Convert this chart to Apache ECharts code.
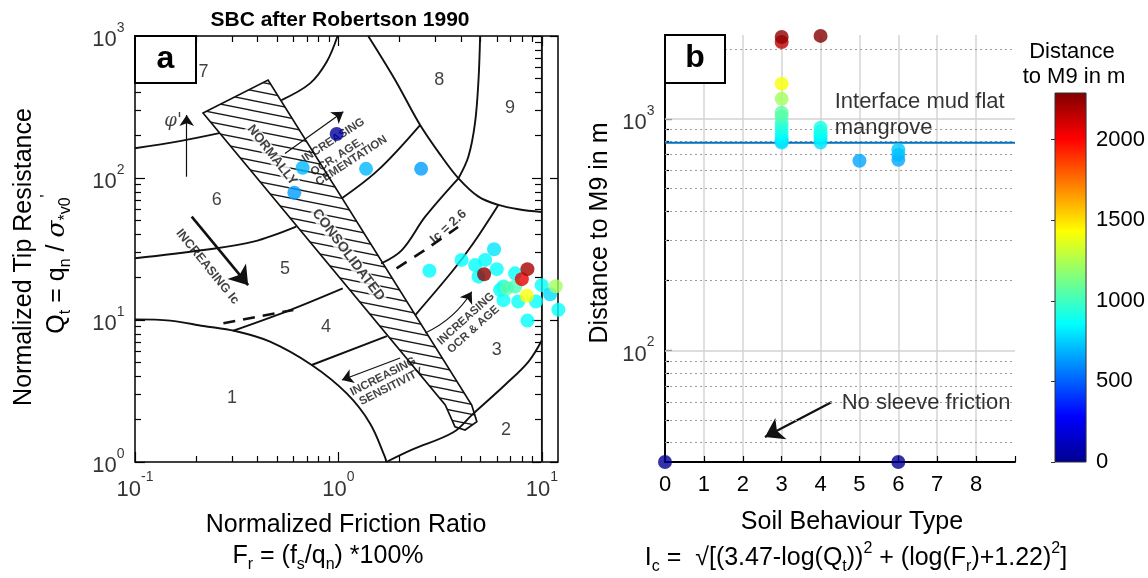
<!DOCTYPE html>
<html><head><meta charset="utf-8">
<script src="https://cdn.jsdelivr.net/npm/echarts@6/dist/echarts.min.js"></script>
<style>html,body{margin:0;padding:0;background:#fff}#c{width:1148px;height:578px}</style>
</head><body><div id="c"></div>
<script>
const FF = '"Liberation Sans", Arial, Helvetica, sans-serif';

// ---------------- DATA ----------------
// Panel a : CPT samples  (Fr in %, Qt, distance to M9 in m)
const aFr   = [0.98, 0.667, 1.367, 2.55, 0.607, 2.80, 4.03, 5.82, 5.26, 4.70, 6.00, 4.88, 7.38, 6.47, 6.22, 6.47, 7.65, 9.98, 10.97, 9.35, 12.05, 8.49, 6.71, 7.38, 11.7, 8.43, 7.97, 8.49, 5.20];
const aQt   = [204, 118, 116, 116, 78.8, 22.2, 26.5, 31.5, 26.5, 24.4, 22.8, 20.2, 21.3, 17.2, 16.3, 13.8, 13.5, 17.6, 15.2, 13.5, 11.8, 9.9, 16.7, 17.2, 17.3, 14.8, 19.4, 22.8, 21.0];
const aDist = [40, 700, 700, 640, 640, 850, 860, 800, 850, 860, 860, 860, 870, 900, 880, 870, 880, 870, 780, 870, 870, 860, 1060, 1020, 1220, 1420, 2050, 2200, 2250];

// Panel b : soil behaviour type vs distance to M9
const bSBT  = [3, 3, 3, 3, 3, 3, 3, 3, 3, 3, 3, 3, 4, 4, 4, 4, 4, 4, 5, 6, 6, 6, 0, 6];
const bDist = [790, 800, 830, 870, 915, 960, 1020, 1062, 1219, 1416, 2146, 2255, 790, 820, 850, 880, 915, 2280, 659, 665, 700, 735, 0, 0];
const interfaceDist = 788;
const bYMin = 33, bYMax = 2300;

// Robertson (1990) chart boundaries  [Fr, Qt]
const zone1Arc     = [[0.1,10.1],[0.149,9.9],[0.217,9.08],[0.31,8.37],[0.461,7.04],[0.739,4.82],[1.098,3.04],[1.43,1.87],[1.69,1.09],[1.72,1.0]];
const zone2Curve   = [[1.72,1.0],[2.3,1.22],[3.67,1.62],[4.52,2.14],[6.6,3.5],[8.6,5.1],[10,7.2]];
const zone67Line   = [[0.1,162],[0.166,182],[0.26,207]];
const zone56Line   = [[0.1,27.2],[0.217,31.1],[0.382,35.6],[0.62,45.4]];
const zone45Line   = [[0.304,8.4],[0.565,11.6],[1.05,16.7]];
const zone34Line   = [[0.739,4.82],[1.73,7.7]];
const zone78Arc    = [[0.99,1000],[0.876,659],[0.725,464],[0.525,354]];
const zone8Outer   = [[1.4,1000],[1.9,490],[2.52,236],[3.22,141],[3.89,99.5],[4.88,73.9],[6.11,64.6],[7.66,60.2],[10,57.5]];
const zone89Line   = [[4.97,1000],[4.88,490],[4.69,243],[4.35,141],[3.89,99.5]];
const zone8Lower   = [[2.52,236],[1.57,114],[1.04,72]];
const junctionLine = [[3.89,99.5],[2.67,53.4],[2.05,31.1],[1.62,25]];
const zone3Top     = [[2.38,10.8],[3.67,22.5],[4.6,34.7],[6.11,64.6]];
const ic26Left     = [[0.272,9.48],[0.6,11.76]];
const ic26Right    = [[1.93,23.1],[2.65,31],[3.87,45.2]];
const chartEdge    = [[10,1],[10,1000]];
const ncBand       = [[0.216,287],[3.35,2.52],[3.74,1.77],[4.19,1.68],[4.79,1.92],[4.52,2.52],[0.451,490]];

// tick values
const aXMajor = [0.1,1,10];
const aXMinor = [0.2,0.3,0.4,0.5,0.6,0.7,0.8,0.9,2,3,4,5,6,7,8,9];
const aYMajor = [1,10,100,1000];
const aYMinor = [2,3,4,5,6,7,8,9,20,30,40,50,60,70,80,90,200,300,400,500,600,700,800,900];
const bYMajor = [100,1000];
const bYMinor = [40,50,60,70,80,90,200,300,400,500,600,700,800,900,2000];
const cbMax = 2290;

// ---------------- HELPERS ----------------
const jet = ['#00008f','#0000ff','#007fff','#00ffff','#7fff7f','#ffff00','#ff7f00','#ff0000','#800000'];
const INK = '#111';

function curve(data, o) {
  o = o || {};
  return {type:'line', xAxisIndex:0, yAxisIndex:0, data, symbol:'none', showSymbol:false,
    smooth: o.smooth === undefined ? 0.35 : o.smooth, silent:true, clip:false, z:3,
    lineStyle:{color:INK, width:o.width || 1.9, type:o.type || 'solid'}};
}
function arrow(from, to, o) {
  o = o || {};
  return {type:'lines', coordinateSystem:'cartesian2d', xAxisIndex:o.xi||0, yAxisIndex:o.yi||0, silent:true, z:4,
    symbol:['none','arrow'], symbolSize:o.head || 10,
    lineStyle:{color:INK, width:o.width || 1.2, curveness:o.curve || 0, opacity:1},
    itemStyle:{color:INK}, data:[{coords:[from, to]}]};
}
function labels(xi, yi, items, z) {
  return {type:'scatter', xAxisIndex:xi, yAxisIndex:yi, symbolSize:1, itemStyle:{color:'rgba(0,0,0,0)'},
    silent:true, clip:false, z:z || 7, data:items, label:{show:true}, emphasis:{disabled:true}};
}
// tick-only log axes (labels drawn separately)
function tickAxis(grid, min, max, pos, values, len, offset) {
  return {gridIndex:grid, type:'log', logBase:10, min, max, position:pos, offset:offset || 0,
    axisLine:{show:false}, axisLabel:{show:false}, splitLine:{show:false}, minorTick:{show:false},
    axisTick:{show:true, inside:true, length:len, customValues:values, lineStyle:{color:'#000', width:1.2}}};
}
const supRich = {
  tk:{fontSize:22, fontFamily:FF, color:'#000', lineHeight:30, verticalAlign:'bottom'},
  tp:{fontSize:14, fontFamily:FF, color:'#000', verticalAlign:'top'}
};
const pow10 = v => '{tk|10}{tp|' + Math.round(Math.log10(v)) + '}';

function txt(t, p, rot, fs, extra) {
  return {value:p, label:Object.assign({formatter:t, position:'inside', rotate:rot, fontSize:fs,
    fontFamily:FF, color:INK}, extra || {})};
}

// hatch pattern for the normally consolidated band
const hc = document.createElement('canvas'); hc.width = 50; hc.height = 10;
const hg = hc.getContext('2d'); hg.strokeStyle = '#1a1a1a'; hg.lineWidth = 1.3;
for (let k = -1; k <= 1; k++) { hg.beginPath(); hg.moveTo(-50, -10 + k*10); hg.lineTo(100, 20 + k*10); hg.stroke(); }

// ---------------- SERIES ----------------
const series = [];
series.push({type:'custom', xAxisIndex:0, yAxisIndex:0, silent:true, z:2, clip:false, data:[[1,1]],
  renderItem(params, api) {
    const pts = ncBand.map(d => api.coord(d));
    return {type:'polygon', shape:{points:pts, smooth:0}, style:{fill:{image:hc, repeat:'repeat'}, stroke:INK, lineWidth:1.7}};
  }});
[zone1Arc, zone2Curve, zone67Line, zone56Line, zone45Line, zone78Arc, zone8Outer, zone89Line, zone8Lower, junctionLine, zone3Top].forEach(c => series.push(curve(c)));
series.push(curve(zone34Line, {smooth:0}));
series.push(curve(chartEdge, {smooth:0}));
series.push(curve(ic26Left, {type:[12,8], width:2.6, smooth:0}));
series.push(curve(ic26Right, {type:[12,9], width:2.6, smooth:0.2}));
// arrows
series.push(arrow([0.1795,102],[0.1795,278], {head:11}));
series.push(arrow([0.190,53.4],[0.360,17.6], {width:2.6, head:18}));
series.push(arrow([0.546,149],[1.057,293], {head:11}));
series.push(arrow([2.67,8.1],[4.52,15.8], {head:11, curve:-0.15}));
series.push(arrow([2.01,5.4],[1.04,3.78], {head:11}));
// texts panel a
const zoneNums = [['1',[0.30,2.81]],['2',[6.67,1.68]],['3',[6.0,6.15]],['4',[0.869,8.97]],['5',[0.546,22.8]],['6',[0.252,70]],['7',[0.217,561]],['8',[3.13,490]],['9',[6.98,310]]];
const aTexts = zoneNums.map(z => txt(z[0], z[1], 0, 18));
const B = {fontWeight:'bold'};
aTexts.push(txt('NORMALLY', [0.472,145], -52, 13, {fontWeight:'bold', backgroundColor:'#fff', padding:[0,1]}));
aTexts.push(txt('CONSOLIDATED', [1.118,28.7], -53, 14, {fontWeight:'bold', backgroundColor:'#fff', padding:[0,1]}));
aTexts.push(txt('INCREASING Ic', [0.227,23.7], -51, 12.5, B));
aTexts.push(txt('INCREASING', [0.670,134], 33, 11.5, {fontWeight:'bold', align:'left'}));
aTexts.push(txt('OCR, AGE,', [0.739,108], 33, 11.5, {fontWeight:'bold', align:'left'}));
aTexts.push(txt('CEMENTATION', [0.782,91.8], 33, 11.5, {fontWeight:'bold', align:'left'}));
aTexts.push(txt('Ic = 2.6', [3.47,45.4], 42, 13, B));
aTexts.push(txt('INCREASING', [4.23,10.2], 42, 11.5, B));
aTexts.push(txt('OCR & AGE', [4.60,8.56], 42, 11.5, B));
aTexts.push(txt('INCREASING', [1.66,4.0], 27, 11.5, B));
aTexts.push(txt('SENSITIVITY', [1.82,3.40], 27, 11.5, B));
aTexts.push(txt("φ'", [0.154,249], 0, 18, {fontFamily:'"DejaVu Serif", serif', fontStyle:'italic'}));
series.push(labels(0,0, aTexts, 6));
// tick labels panel a
series.push(labels(0,0, aXMajor.map(v => ({value:[v,1], label:{formatter:pow10(v), position:'bottom', distance:8, rich:supRich}})), 7));
series.push(labels(0,0, aYMajor.map(v => ({value:[0.1,v], label:{formatter:pow10(v), position:'left', distance:10, rich:supRich}})), 7));
// points panel a
const idxA = series.length;
series.push({type:'scatter', xAxisIndex:0, yAxisIndex:0, symbolSize:14, clip:false, z:10,
  data: aFr.map((f,i) => [f, aQt[i], aDist[i]])});

// panel b
series.push({type:'line', xAxisIndex:1, yAxisIndex:1, data:[[0,interfaceDist],[9,interfaceDist]], symbol:'none',
  silent:true, z:6, lineStyle:{color:'#0072BD', width:2},
  markLine:{silent:true, symbol:'none', label:{show:false}, animation:false,
    data: bYMajor.map(v => ({yAxis:v, lineStyle:{color:'#d2d2d2', type:'solid', width:1.5}}))
      .concat(bYMinor.map(v => ({yAxis:v, lineStyle:{color:'#9c9c9c', type:[2,3], width:1.2}})))}});
series.push(labels(1,1, bYMajor.map(v => ({value:[0,v], label:{formatter:pow10(v), position:'left', distance:10, rich:supRich}})), 7));
series.push(labels(1,1, [
  {value:[4.35,1038], label:{formatter:'Interface mud flat\nmangrove', position:'right', distance:0, fontSize:22, lineHeight:26, fontFamily:FF, color:'#000'}},
  {value:[4.53,59.3], label:{formatter:'No sleeve friction', position:'right', distance:0, fontSize:22, fontFamily:FF, color:'#000'}}
], 7));
series.push(arrow([4.29,59.9],[2.57,42.3], {xi:1, yi:1, width:2.2, head:18}));
const idxB = series.length;
series.push({type:'scatter', xAxisIndex:1, yAxisIndex:1, symbolSize:14, clip:false, z:10,
  data: bSBT.map((s,i) => [s, Math.max(bDist[i], bYMin), bDist[i]])});

// colour bar
series.push({type:'custom', xAxisIndex:2, yAxisIndex:2, silent:true, z:5, data:[[0,0]],
  renderItem(params, api) {
    const p0 = api.coord([0,0]), p1 = api.coord([1,cbMax]);
    return {type:'rect', shape:{x:p0[0], y:p1[1], width:p1[0]-p0[0], height:p0[1]-p1[1]},
      style:{fill:new echarts.graphic.LinearGradient(0,1,0,0, jet.map((c,i) => ({offset:i/(jet.length-1), color:c}))), stroke:'#333', lineWidth:1}};
  }});

const hidden = {axisLine:{show:false}, axisTick:{show:false}, axisLabel:{show:false}, splitLine:{show:false}};
const subRich = {
  m:{fontSize:25, fontFamily:FF, color:'#000', lineHeight:34},
  sb:{fontSize:16, fontFamily:FF, color:'#000', verticalAlign:'bottom'},
  sp:{fontSize:16, fontFamily:FF, color:'#000', verticalAlign:'top'},
  g:{fontSize:25, fontFamily:'"DejaVu Serif", serif', fontStyle:'italic', color:'#000', lineHeight:34}
};
function gtext(x, y, text, o) {
  o = o || {};
  return {type:'text', x, y, rotation:o.rot || 0, z:o.z || 50,
    style:{text, font:o.font || ('25px ' + FF), fill:'#000', align:'center', verticalAlign:'middle',
      textAlign:'center', textVerticalAlign:'middle', rich:o.rich}};
}

const option = {
  animation:false,
  grid:[
    {left:135, top:36, width:423, height:426, show:true, borderColor:'#000', borderWidth:1.5},
    {left:665, top:35, width:350, height:427},
    {left:1055, top:93, width:35, height:369}
  ],
  xAxis:[
    tickAxis(0, 0.1, 12, 'bottom', aXMajor, 10),
    {gridIndex:1, type:'value', min:0, max:9, interval:1,
      axisLine:{show:true, onZero:false, lineStyle:{color:'#000', width:2}},
      axisTick:{show:true, inside:true, length:6, lineStyle:{color:'#000', width:1.2}},
      axisLabel:{show:true, fontSize:22, color:'#000', fontFamily:FF, margin:12, formatter:v => v === 9 ? '' : String(v)},
      splitLine:{show:true, showMinLine:false, showMaxLine:false, lineStyle:{color:'#d4d4d4', width:1.5}}},
    Object.assign({gridIndex:2, type:'value', min:0, max:1}, hidden),
    tickAxis(0, 0.1, 12, 'bottom', aXMinor, 6),
    tickAxis(0, 0.1, 12, 'top', aXMajor, 10),
    tickAxis(0, 0.1, 12, 'top', aXMinor, 6)
  ],
  yAxis:[
    tickAxis(0, 1, 1000, 'left', aYMajor, 10),
    {gridIndex:1, type:'log', logBase:10, min:bYMin, max:bYMax, position:'left',
      axisLine:{show:true, onZero:false, lineStyle:{color:'#000', width:2}},
      axisTick:{show:true, inside:true, length:7, customValues:bYMajor, lineStyle:{color:'#000', width:1.2}},
      axisLabel:{show:false}, splitLine:{show:false}, minorTick:{show:false}},
    {gridIndex:2, type:'value', min:0, max:cbMax, interval:500, position:'right',
      axisLine:{show:false}, axisTick:{show:true, inside:true, length:4, lineStyle:{color:'#333'}},
      axisLabel:{show:true, fontSize:22, color:'#000', fontFamily:FF, margin:10, showMaxLabel:false, formatter:v => String(v)},
      splitLine:{show:false}},
    tickAxis(0, 1, 1000, 'left', aYMinor, 6),
    tickAxis(0, 1, 1000, 'right', aYMajor, 9, -17),
    tickAxis(0, 1, 1000, 'right', aYMinor, 6, -17),
    tickAxis(0, 1, 1000, 'right', aYMajor, 8),
    tickAxis(1, bYMin, bYMax, 'left', bYMinor, 4)
  ],
  visualMap:{show:false, type:'continuous', min:0, max:cbMax, dimension:2, seriesIndex:[idxA, idxB], inRange:{color:jet}},
  series,
  graphic:[
    gtext(340, 20, 'SBC after Robertson 1990', {font:'bold 21px ' + FF}),
    {type:'rect', z:100, shape:{x:135, y:36, width:61, height:47}, style:{fill:'#fff', stroke:'#000', lineWidth:2}},
    gtext(165.5, 59, 'a', {font:'bold 32px ' + FF, z:101}),
    {type:'rect', z:100, shape:{x:665, y:35, width:60, height:48}, style:{fill:'#fff', stroke:'#000', lineWidth:2}},
    gtext(695, 58, 'b', {font:'bold 32px ' + FF, z:101}),
    gtext(346, 525, 'Normalized Friction Ratio'),
    gtext(328, 556, '{m|F}{sb|r}{m| = (f}{sb|s}{m|/q}{sb|n}{m|) *100%}', {rich:subRich}),
    gtext(24, 257, 'Normalized Tip Resistance', {rot:Math.PI/2}),
    gtext(57, 264, '{m|Q}{sb|t}{m| = q}{sb|n}{m| / }{g|σ}{sb|*v0}{sp|\'}', {rot:Math.PI/2, rich:subRich}),
    gtext(600, 233, 'Distance to M9 in m', {rot:Math.PI/2}),
    gtext(852, 522, 'Soil Behaviour Type'),
    gtext(856, 558, '{m|I}{sb|c}{m| =  √[(3.47-log(Q}{sb|t}{m|))}{sp|2}{m| + (log(F}{sb|r}{m|)+1.22)}{sp|2}{m|]}', {rich:subRich}),
    gtext(1072, 52, 'Distance', {font:'22px ' + FF}),
    gtext(1074, 77, 'to M9 in m', {font:'22px ' + FF})
  ]
};
const chart = echarts.init(document.getElementById('c'), null, {renderer:'canvas'});
chart.setOption(option);
</script></body></html>
